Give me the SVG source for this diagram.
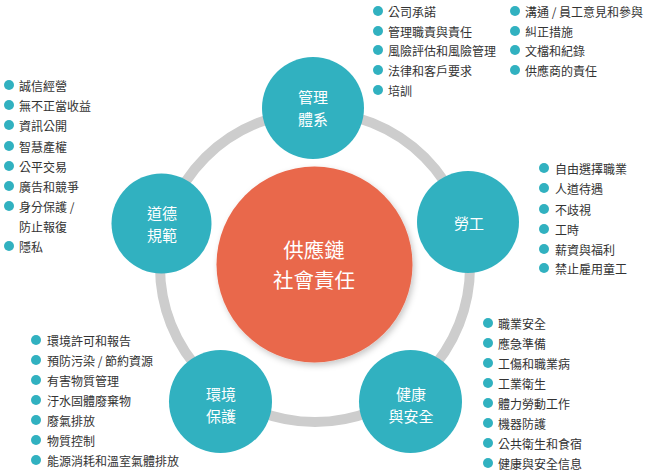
<svg xmlns="http://www.w3.org/2000/svg" width="650" height="470" viewBox="0 0 650 470">
<defs>
<filter id="sh" x="-20%" y="-20%" width="140%" height="140%">
<feDropShadow dx="2" dy="3" stdDeviation="3" flood-color="#000" flood-opacity="0.22"/>
</filter>
<style>
.ring{fill:none;stroke:#cdcdcd;stroke-width:10}
.hub{fill:#e9674c}
.node{fill:#31b1c0}
.lbl{font-family:"Noto Sans CJK TC","Noto Sans CJK SC",sans-serif;fill:#ffffff;text-anchor:middle;dominant-baseline:central}
.nl{font-size:15px}
.hl{font-size:20.5px}
.it{font-family:"Noto Sans CJK TC","Noto Sans CJK SC",sans-serif;font-size:12px;fill:#333333;dominant-baseline:central}
.b{fill:#31b1c0}
</style>
</defs>
<rect width="650" height="470" fill="#ffffff"/>
<g id="connectors">
<circle class="ring" cx="315" cy="267" r="155"/>
</g>
<g id="hub">
<circle class="hub" cx="314.5" cy="264.5" r="98" filter="url(#sh)"/>
<text class="lbl hl" x="314" y="249">供應鏈</text>
<text class="lbl hl" x="314" y="279">社會責任</text>
</g>
<g id="node-management">
<circle class="node" cx="313" cy="108" r="51"/>
<text class="lbl nl" x="313" y="96">管理</text>
<text class="lbl nl" x="313" y="118">體系</text>
</g>
<g id="node-labor">
<circle class="node" cx="468" cy="222" r="51"/>
<text class="lbl nl" x="469" y="222">勞工</text>
</g>
<g id="node-health">
<circle class="node" cx="410.5" cy="401.5" r="51.5"/>
<text class="lbl nl" x="411" y="393">健康</text>
<text class="lbl nl" x="411" y="415">與安全</text>
</g>
<g id="node-environment">
<circle class="node" cx="220.5" cy="401.5" r="51.5"/>
<text class="lbl nl" x="221" y="393">環境</text>
<text class="lbl nl" x="221" y="415">保護</text>
</g>
<g id="node-ethics">
<circle class="node" cx="161.5" cy="223.5" r="50"/>
<text class="lbl nl" x="162" y="212">道德</text>
<text class="lbl nl" x="162" y="234">規範</text>
</g>
<g id="list-management">
<circle class="b" cx="378" cy="11" r="5"/><text class="it" x="388" y="11">公司承諾</text>
<circle class="b" cx="378" cy="31" r="5"/><text class="it" x="388" y="31">管理職責與責任</text>
<circle class="b" cx="378" cy="50" r="5"/><text class="it" x="388" y="50">風險評估和風險管理</text>
<circle class="b" cx="378" cy="70" r="5"/><text class="it" x="388" y="70">法律和客戶要求</text>
<circle class="b" cx="378" cy="90" r="5"/><text class="it" x="388" y="90">培訓</text>
<circle class="b" cx="515" cy="11" r="5"/><text class="it" x="525" y="11">溝通 / 員工意見和參與</text>
<circle class="b" cx="515" cy="31" r="5"/><text class="it" x="525" y="31">糾正措施</text>
<circle class="b" cx="515" cy="50" r="5"/><text class="it" x="525" y="50">文檔和紀錄</text>
<circle class="b" cx="515" cy="70" r="5"/><text class="it" x="525" y="70">供應商的責任</text>
</g>
<g id="list-ethics">
<circle class="b" cx="9" cy="85" r="5"/><text class="it" x="19" y="85">誠信經營</text>
<circle class="b" cx="9" cy="105" r="5"/><text class="it" x="19" y="105">無不正當收益</text>
<circle class="b" cx="9" cy="125" r="5"/><text class="it" x="19" y="125">資訊公開</text>
<circle class="b" cx="9" cy="146" r="5"/><text class="it" x="19" y="146">智慧產權</text>
<circle class="b" cx="9" cy="166" r="5"/><text class="it" x="19" y="166">公平交易</text>
<circle class="b" cx="9" cy="186" r="5"/><text class="it" x="19" y="186">廣告和競爭</text>
<circle class="b" cx="9" cy="206" r="5"/><text class="it" x="19" y="206">身分保護 /</text>
<text class="it" x="19" y="226">防止報復</text>
<circle class="b" cx="9" cy="246" r="5"/><text class="it" x="19" y="246">隱私</text>
</g>
<g id="list-labor">
<circle class="b" cx="544" cy="168" r="5"/><text class="it" x="555" y="168">自由選擇職業</text>
<circle class="b" cx="544" cy="188" r="5"/><text class="it" x="555" y="188">人道待遇</text>
<circle class="b" cx="544" cy="209" r="5"/><text class="it" x="555" y="209">不歧視</text>
<circle class="b" cx="544" cy="229" r="5"/><text class="it" x="555" y="229">工時</text>
<circle class="b" cx="544" cy="249" r="5"/><text class="it" x="555" y="249">薪資與福利</text>
<circle class="b" cx="544" cy="268" r="5"/><text class="it" x="555" y="268">禁止雇用童工</text>
</g>
<g id="list-health">
<circle class="b" cx="488" cy="323" r="5"/><text class="it" x="498" y="323">職業安全</text>
<circle class="b" cx="488" cy="343" r="5"/><text class="it" x="498" y="343">應急準備</text>
<circle class="b" cx="488" cy="363" r="5"/><text class="it" x="498" y="363">工傷和職業病</text>
<circle class="b" cx="488" cy="383" r="5"/><text class="it" x="498" y="383">工業衛生</text>
<circle class="b" cx="488" cy="403" r="5"/><text class="it" x="498" y="403">體力勞動工作</text>
<circle class="b" cx="488" cy="423" r="5"/><text class="it" x="498" y="423">機器防護</text>
<circle class="b" cx="488" cy="443" r="5"/><text class="it" x="498" y="443">公共衛生和食宿</text>
<circle class="b" cx="488" cy="463" r="5"/><text class="it" x="498" y="463">健康與安全信息</text>
</g>
<g id="list-environment">
<circle class="b" cx="36" cy="340" r="5"/><text class="it" x="47" y="340">環境許可和報告</text>
<circle class="b" cx="36" cy="360" r="5"/><text class="it" x="47" y="360">預防污染 / 節約資源</text>
<circle class="b" cx="36" cy="380" r="5"/><text class="it" x="47" y="380">有害物質管理</text>
<circle class="b" cx="36" cy="400" r="5"/><text class="it" x="47" y="400">汙水固體廢棄物</text>
<circle class="b" cx="36" cy="420" r="5"/><text class="it" x="47" y="420">廢氣排放</text>
<circle class="b" cx="36" cy="440" r="5"/><text class="it" x="47" y="440">物質控制</text>
<circle class="b" cx="36" cy="460" r="5"/><text class="it" x="47" y="460">能源消耗和溫室氣體排放</text>
</g>
</svg>
